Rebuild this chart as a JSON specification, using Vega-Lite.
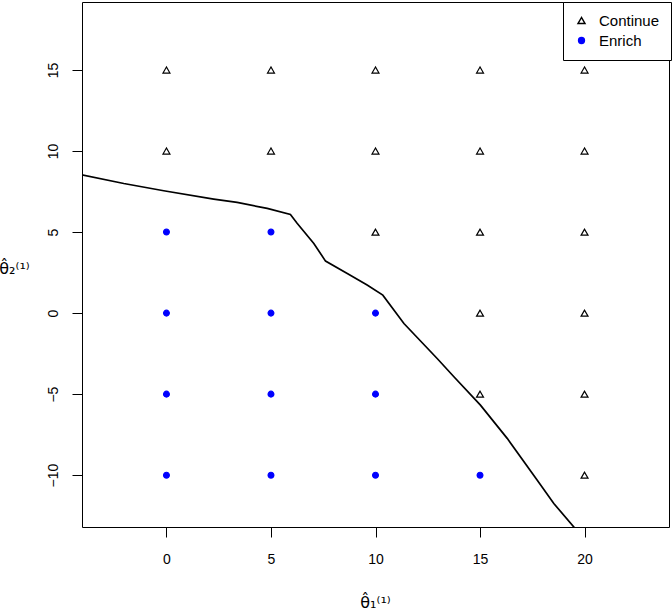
{
  "$schema": "https://vega.github.io/schema/vega-lite/v6.json",
  "width": 587,
  "height": 525,
  "autosize": {"type": "none"},
  "padding": {"left": 82, "top": 2, "right": 3, "bottom": 87},
  "background": "white",
  "config": {
    "view": {"stroke": "black", "strokeWidth": 1},
    "font": "Liberation Sans",
    "axis": {
      "grid": false,
      "domain": false,
      "tickColor": "black",
      "tickSize": 10,
      "labelColor": "black",
      "labelFontSize": 14,
      "labelFont": "Liberation Sans",
      "titleFont": "DejaVu Sans",
      "titleFontWeight": "normal",
      "titleColor": "black",
      "titleFontSize": 16
    }
  },
  "datasets": {
    "pts": [
      {"t1": 0, "t2": 15, "type": "Continue"},
      {"t1": 5, "t2": 15, "type": "Continue"},
      {"t1": 10, "t2": 15, "type": "Continue"},
      {"t1": 15, "t2": 15, "type": "Continue"},
      {"t1": 20, "t2": 15, "type": "Continue"},
      {"t1": 0, "t2": 10, "type": "Continue"},
      {"t1": 5, "t2": 10, "type": "Continue"},
      {"t1": 10, "t2": 10, "type": "Continue"},
      {"t1": 15, "t2": 10, "type": "Continue"},
      {"t1": 20, "t2": 10, "type": "Continue"},
      {"t1": 0, "t2": 5, "type": "Enrich"},
      {"t1": 5, "t2": 5, "type": "Enrich"},
      {"t1": 10, "t2": 5, "type": "Continue"},
      {"t1": 15, "t2": 5, "type": "Continue"},
      {"t1": 20, "t2": 5, "type": "Continue"},
      {"t1": 0, "t2": 0, "type": "Enrich"},
      {"t1": 5, "t2": 0, "type": "Enrich"},
      {"t1": 10, "t2": 0, "type": "Enrich"},
      {"t1": 15, "t2": 0, "type": "Continue"},
      {"t1": 20, "t2": 0, "type": "Continue"},
      {"t1": 0, "t2": -5, "type": "Enrich"},
      {"t1": 5, "t2": -5, "type": "Enrich"},
      {"t1": 10, "t2": -5, "type": "Enrich"},
      {"t1": 15, "t2": -5, "type": "Continue"},
      {"t1": 20, "t2": -5, "type": "Continue"},
      {"t1": 0, "t2": -10, "type": "Enrich"},
      {"t1": 5, "t2": -10, "type": "Enrich"},
      {"t1": 10, "t2": -10, "type": "Enrich"},
      {"t1": 15, "t2": -10, "type": "Enrich"},
      {"t1": 20, "t2": -10, "type": "Continue"}
    ],
    "boundary": [
      {"i": 1, "t1": -4.1, "t2": 8.55},
      {"i": 2, "t1": -2.04, "t2": 8.0},
      {"i": 3, "t1": -0.13, "t2": 7.55},
      {"i": 4, "t1": 2.26, "t2": 7.04},
      {"i": 5, "t1": 3.38, "t2": 6.83},
      {"i": 6, "t1": 4.82, "t2": 6.46},
      {"i": 7, "t1": 5.93, "t2": 6.09},
      {"i": 8, "t1": 6.25, "t2": 5.54},
      {"i": 9, "t1": 7.05, "t2": 4.3},
      {"i": 10, "t1": 7.61, "t2": 3.21},
      {"i": 11, "t1": 8.65, "t2": 2.45},
      {"i": 12, "t1": 9.6, "t2": 1.73},
      {"i": 13, "t1": 10.35, "t2": 1.11},
      {"i": 14, "t1": 11.36, "t2": -0.64},
      {"i": 15, "t1": 12.95, "t2": -2.8},
      {"i": 16, "t1": 13.75, "t2": -3.93},
      {"i": 17, "t1": 15.02, "t2": -5.68},
      {"i": 18, "t1": 16.3, "t2": -7.73},
      {"i": 19, "t1": 17.73, "t2": -10.3},
      {"i": 20, "t1": 18.53, "t2": -11.75},
      {"i": 21, "t1": 19.62, "t2": -13.4}
    ]
  },
  "layer": [
    {
      "data": {"name": "boundary"},
      "mark": {"type": "line", "color": "black", "strokeWidth": 1.7, "clip": true},
      "encoding": {
        "x": {"field": "t1", "type": "quantitative"},
        "y": {"field": "t2", "type": "quantitative"},
        "order": {"field": "i", "type": "quantitative"}
      }
    },
    {
      "data": {"name": "pts"},
      "mark": {"type": "point", "filled": true, "strokeWidth": 1.2, "opacity": 1},
      "encoding": {
        "x": {
          "field": "t1", "type": "quantitative",
          "scale": {"domain": [-4.04, 24.04], "nice": false, "zero": false},
          "axis": {
            "values": [0, 5, 10, 15, 20],
            "labelPadding": 15,
            "title": "θ̂₁⁽¹⁾",
            "titleX": 293,
            "titleY": 75,
            "titleAlign": "center",
            "titleBaseline": "middle"
          }
        },
        "y": {
          "field": "t2", "type": "quantitative",
          "scale": {"domain": [-13.2, 19.2], "nice": false, "zero": false},
          "axis": {
            "values": [-10, -5, 0, 5, 10, 15],
            "labelAngle": -90,
            "labelAlign": "center",
            "labelBaseline": "alphabetic",
            "labelPadding": 15,
            "title": "θ̂₂⁽¹⁾",
            "titleAngle": 0,
            "titleX": -68,
            "titleY": 266,
            "titleAlign": "center",
            "titleBaseline": "middle"
          }
        },
        "shape": {
          "field": "type", "type": "nominal",
          "scale": {"domain": ["Continue", "Enrich"], "range": ["triangle-up", "circle"]},
          "legend": {
            "title": null,
            "orient": "none",
            "legendX": 481,
            "legendY": 0,
            "strokeColor": "black",
            "fillColor": "white",
            "padding": 11,
            "labelFontSize": 15,
            "labelFont": "Liberation Sans",
            "labelColor": "black",
            "rowPadding": 4,
            "labelOffset": 10
          }
        },
        "size": {
          "field": "type", "type": "nominal",
          "scale": {"domain": ["Continue", "Enrich"], "range": [48, 34]}
        },
        "fill": {
          "field": "type", "type": "nominal",
          "scale": {"domain": ["Continue", "Enrich"], "range": ["transparent", "#0000FF"]}
        },
        "stroke": {
          "field": "type", "type": "nominal",
          "scale": {"domain": ["Continue", "Enrich"], "range": ["black", "#0000FF"]}
        }
      }
    }
  ]
}
